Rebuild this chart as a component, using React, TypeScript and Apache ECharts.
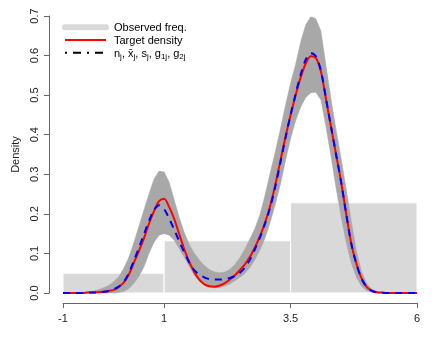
import React, { useEffect, useRef } from "react";
import * as echarts from "echarts";

// x grid (Density evaluated at these points)
const xs = [
  -1.0, -0.9, -0.8, -0.7, -0.6, -0.5, -0.4, -0.3, -0.2, -0.1,
  0.0, 0.1, 0.2, 0.3, 0.4, 0.5, 0.6, 0.7, 0.8, 0.9,
  1.0, 1.1, 1.2, 1.3, 1.4, 1.5, 1.6, 1.7, 1.8, 1.9,
  2.0, 2.1, 2.2, 2.3, 2.4, 2.5, 2.6, 2.7, 2.8, 2.9,
  3.0, 3.1, 3.2, 3.3, 3.4, 3.5, 3.6, 3.7, 3.8, 3.9,
  4.0, 4.1, 4.2, 4.3, 4.4, 4.5, 4.6, 4.7, 4.8, 4.9,
  5.0, 5.1, 5.2, 5.3, 5.4, 5.5, 5.6, 5.7, 5.8, 5.9,
  6.0,
];

const targetDensity = [
  0, 0, 0, 0, 0, 0.001, 0.001, 0.002, 0.003, 0.005,
  0.008, 0.015, 0.026, 0.046, 0.076, 0.106, 0.138, 0.175, 0.207, 0.232,
  0.238, 0.217, 0.187, 0.148, 0.11, 0.078, 0.052, 0.033, 0.022, 0.017,
  0.016, 0.019, 0.025, 0.034, 0.045, 0.058, 0.073, 0.092, 0.117, 0.145,
  0.18, 0.222, 0.275, 0.335, 0.395, 0.45, 0.5, 0.545, 0.58, 0.598,
  0.594, 0.56, 0.49, 0.42, 0.35, 0.28, 0.2, 0.125, 0.075, 0.038,
  0.016, 0.006, 0.002, 0.001, 0, 0, 0, 0, 0, 0,
  0,
];

const estimatedDensity = [
  0, 0, 0, 0, 0, 0.001, 0.001, 0.002, 0.003, 0.005,
  0.009, 0.016, 0.028, 0.05, 0.081, 0.114, 0.148, 0.182, 0.21, 0.222,
  0.212, 0.188, 0.16, 0.13, 0.102, 0.076, 0.057, 0.046, 0.039, 0.035,
  0.034, 0.034, 0.035, 0.038, 0.043, 0.051, 0.065, 0.085, 0.112, 0.142,
  0.177, 0.218, 0.27, 0.33, 0.392, 0.45, 0.503, 0.552, 0.59, 0.606,
  0.598, 0.562, 0.492, 0.42, 0.35, 0.28, 0.2, 0.125, 0.074, 0.037,
  0.016, 0.006, 0.002, 0.001, 0, 0, 0, 0, 0, 0,
  0,
];

const bandUpper = [
  0, 0, 0, 0.001, 0.002, 0.003, 0.005, 0.009, 0.013, 0.019,
  0.028, 0.041, 0.062, 0.09, 0.127, 0.168, 0.21, 0.25, 0.288, 0.308,
  0.306, 0.28, 0.235, 0.19, 0.152, 0.122, 0.1, 0.083, 0.069, 0.059,
  0.053, 0.051, 0.053, 0.06, 0.072, 0.09, 0.112, 0.138, 0.165, 0.2,
  0.25, 0.305, 0.358, 0.415, 0.475, 0.53, 0.578, 0.635, 0.678, 0.698,
  0.693, 0.662, 0.575, 0.49, 0.412, 0.34, 0.262, 0.182, 0.108, 0.055,
  0.025, 0.01, 0.004, 0.001, 0, 0, 0, 0, 0, 0,
  0,
];

const bandLower = [
  0, 0, 0, 0, 0, 0, 0, 0, 0, 0,
  0, 0.001, 0.004, 0.011, 0.024, 0.042, 0.066, 0.1, 0.128, 0.146,
  0.15, 0.146, 0.133, 0.112, 0.09, 0.066, 0.044, 0.029, 0.019, 0.015,
  0.013, 0.014, 0.018, 0.023, 0.031, 0.04, 0.05, 0.065, 0.085, 0.11,
  0.14, 0.18, 0.225, 0.275, 0.335, 0.39, 0.435, 0.47, 0.494, 0.506,
  0.507, 0.488, 0.42, 0.345, 0.265, 0.192, 0.128, 0.076, 0.04, 0.018,
  0.006, 0.002, 0, 0, 0, 0, 0, 0, 0, 0,
  0,
];

const histBreaks = [-1, 1, 3.5, 6];
const histHeights = [0.05, 0.132, 0.228];

const xTicks = [-1, 1, 3.5, 6];
const xTickLabels = ["-1", "1", "3.5", "6"];

const legendLabels = ["Observed freq.", "Target density"];

const FONT = "'Liberation Sans', Arial, Helvetica, sans-serif";

export default function App() {
  const ref = useRef<HTMLDivElement>(null);

  useEffect(() => {
    if (!ref.current) return;
    const chart = echarts.init(ref.current, null, { renderer: "svg" });

    const histData = histHeights.map((h, i) => [histBreaks[i], histBreaks[i + 1], h]);
    const redData = xs.map((x, i) => [x, targetDensity[i]]);
    const blueData = xs.map((x, i) => [x, estimatedDensity[i]]);

    const axisColor = "#666";
    const textColor = "#222";

    const legendX0 = 65;
    const legendX1 = 106;
    const legendTextX = 114;
    const rowY = [27.3, 40, 52.7];

    chart.setOption({
      animation: false,
      grid: { left: 63, right: 24, top: 16, bottom: 50 },
      xAxis: {
        type: "value",
        min: -1,
        max: 6,
        offset: 10,
        axisLine: { show: true, onZero: false, lineStyle: { color: axisColor, width: 1 } },
        axisTick: { show: true, customValues: xTicks, length: 5, lineStyle: { color: axisColor } },
        axisLabel: {
          customValues: xTicks,
          formatter: (v: number) => {
            const i = xTicks.indexOf(v);
            return i >= 0 ? xTickLabels[i] : String(v);
          },
          color: textColor,
          fontSize: 11,
          fontFamily: FONT,
          margin: 9,
        },
        splitLine: { show: false },
      },
      yAxis: {
        type: "value",
        min: 0,
        max: 0.7,
        interval: 0.1,
        offset: 14,
        name: "Density",
        nameLocation: "middle",
        nameGap: 26,
        nameRotate: 90,
        nameTextStyle: { fontSize: 11, color: textColor, fontFamily: FONT },
        axisLine: { show: true, onZero: false, lineStyle: { color: axisColor, width: 1 } },
        axisTick: { show: true, length: 5, lineStyle: { color: axisColor } },
        axisLabel: {
          rotate: 90,
          formatter: (v: number) => v.toFixed(1),
          color: textColor,
          fontSize: 11,
          fontFamily: FONT,
          margin: 10,
        },
        splitLine: { show: false },
      },
      series: [
        {
          type: "custom",
          name: "Observed freq.",
          data: histData,
          encode: { x: [0, 1], y: 2 },
          renderItem: (_params: any, api: any) => {
            const x0 = api.value(0);
            const x1 = api.value(1);
            const h = api.value(2);
            const p0 = api.coord([x0, h]);
            const p1 = api.coord([x1, 0]);
            return {
              type: "rect",
              shape: { x: p0[0], y: p0[1], width: p1[0] - p0[0], height: p1[1] - p0[1] },
              style: { fill: "#d9d9d9", stroke: "#ffffff", lineWidth: 1 },
            };
          },
          z: 1,
        },
        {
          type: "custom",
          name: "band",
          data: [[2.5, 0.35]],
          encode: { x: 0, y: 1 },
          renderItem: (_params: any, api: any) => {
            const pts: number[][] = [];
            for (let i = 0; i < xs.length; i++) pts.push(api.coord([xs[i], bandUpper[i]]));
            for (let i = xs.length - 1; i >= 0; i--) pts.push(api.coord([xs[i], bandLower[i]]));
            return {
              type: "polygon",
              shape: { points: pts },
              style: { fill: "#a8a8a8", stroke: "#a8a8a8", lineWidth: 0.5 },
            };
          },
          z: 2,
        },
        {
          type: "line",
          name: "Target density",
          data: redData,
          showSymbol: false,
          symbol: "none",
          smooth: 0.3,
          clip: false,
          lineStyle: { color: "#ff0000", width: 2 },
          z: 3,
        },
        {
          type: "line",
          name: "estimate",
          data: blueData,
          showSymbol: false,
          symbol: "none",
          smooth: 0.3,
          clip: false,
          lineStyle: { color: "#0000ff", width: 2, type: [7, 6] },
          z: 4,
        },
      ],
      graphic: [
        {
          type: "line",
          shape: { x1: legendX0, y1: rowY[0], x2: legendX1, y2: rowY[0] },
          style: { stroke: "#d9d9d9", lineWidth: 6, lineCap: "round" },
        },
        {
          type: "line",
          shape: { x1: legendX0, y1: rowY[1], x2: legendX1, y2: rowY[1] },
          style: { stroke: "#ff0000", lineWidth: 2 },
        },
        {
          type: "line",
          shape: { x1: legendX0, y1: rowY[2], x2: legendX1, y2: rowY[2] },
          style: { stroke: "#000000", lineWidth: 2, lineDash: [2, 6, 8, 6] },
        },
        {
          type: "text",
          x: legendTextX,
          y: rowY[0],
          style: { text: legendLabels[0], fill: "#000", fontSize: 11, fontFamily: FONT, verticalAlign: "middle", align: "left" },
        },
        {
          type: "text",
          x: legendTextX,
          y: rowY[1],
          style: { text: legendLabels[1], fill: "#000", fontSize: 11, fontFamily: FONT, verticalAlign: "middle", align: "left" },
        },
        {
          type: "text",
          x: legendTextX,
          y: rowY[2],
          style: {
            text: "n{s|j}, x\u0304{s|j}, s{s|j}, g{s|1j}, g{s|2j}",
            fill: "#000",
            fontSize: 11,
            lineHeight: 15,
            fontFamily: FONT,
            verticalAlign: "middle",
            align: "left",
            rich: {
              s: { fontSize: 8, lineHeight: 8, verticalAlign: "bottom", fontFamily: FONT, fill: "#000" },
            },
          },
        },
      ],
    });

    return () => chart.dispose();
  }, []);

  return (
    <div
      ref={ref}
      style={{ position: "fixed", left: 0, top: 0, width: 441, height: 343 }}
    />
  );
}
